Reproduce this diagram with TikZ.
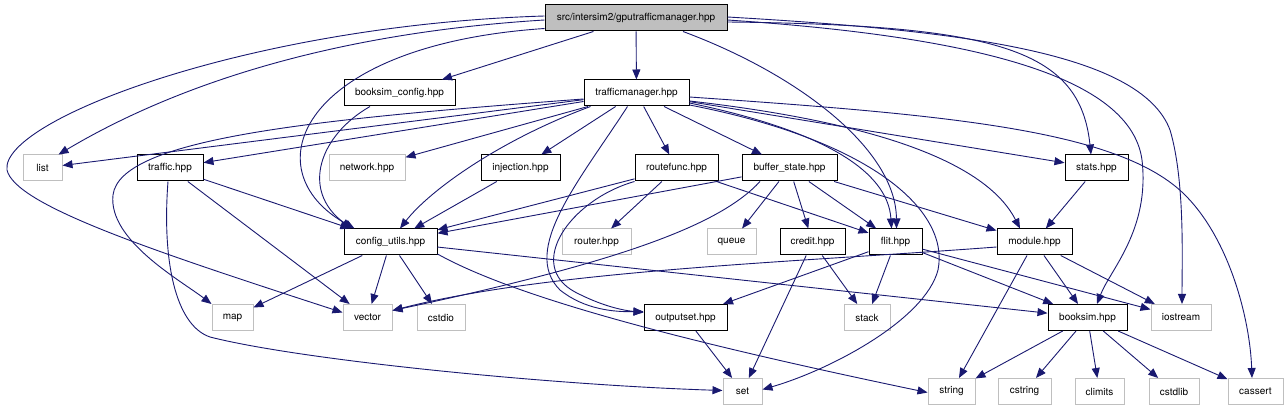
\documentclass[tikz,border=0pt]{standalone}
\usepackage{fontspec}
\setmainfont{TeX Gyre Heros}
\usepackage{tikz}
\usetikzlibrary{arrows.meta}
\definecolor{cedge}{RGB}{25,25,112}
\definecolor{cgray}{RGB}{191,191,191}

\begin{document}
\begin{tikzpicture}[x=1pt, y=-1pt,
  hdr/.style={draw=black, fill=white, line width=1pt, minimum height=26pt, inner sep=0pt,
              font=\fontsize{10}{12}\selectfont},
  sys/.style={hdr, draw=cgray},
  root/.style={hdr, fill=cgray},
  inc/.style={-{Triangle[length=10pt,width=8pt]}, draw=cedge, line width=0.9pt}]
\useasboundingbox (0,0) rectangle (1288,411);
\node[root, minimum width=182pt] (gpu)     at (636,18)      {src/intersim2/gputrafficmanager.hpp};
\node[hdr, minimum width=111pt]  (bcfg)    at (399.5,93)    {booksim\_config.hpp};
\node[hdr, minimum width=105pt]  (tm)      at (636.5,93)    {trafficmanager.hpp};
\node[sys, minimum width=39pt]   (list)    at (42.5,168)    {list};
\node[hdr, minimum width=66pt]   (traffic) at (170,168)     {traffic.hpp};
\node[sys, minimum width=76pt]   (network) at (367,168)     {network.hpp};
\node[hdr, minimum width=79pt]   (inj)     at (520.5,168)   {injection.hpp};
\node[hdr, minimum width=83pt]   (rfunc)   at (676.5,168)   {routefunc.hpp};
\node[hdr, minimum width=95pt]   (bstate)  at (789.5,168)   {buffer\_state.hpp};
\node[hdr, minimum width=63pt]   (stats)   at (1096.5,168)  {stats.hpp};
\node[hdr, minimum width=93pt]   (cfg)     at (390.5,242)   {config\_utils.hpp};
\node[sys, minimum width=69pt]   (router)  at (596.5,242)   {router.hpp};
\node[sys, minimum width=49pt]   (queue)   at (731.5,242)   {queue};
\node[hdr, minimum width=65pt]   (credit)  at (812.5,242)   {credit.hpp};
\node[hdr, minimum width=53pt]   (flit)    at (895.5,242)   {flit.hpp};
\node[hdr, minimum width=75pt]   (module)  at (1034.5,242)  {module.hpp};
\node[sys, minimum width=41pt]   (map)     at (232.5,317.5) {map};
\node[sys, minimum width=49pt]   (vector)  at (367.5,317.5) {vector};
\node[sys, minimum width=48pt]   (cstdio)  at (441,317.5)   {cstdio};
\node[hdr, minimum width=83pt]   (outset)  at (685.5,317.5) {outputset.hpp};
\node[sys, minimum width=46pt]   (stack)   at (867,317.5)   {stack};
\node[hdr, minimum width=79pt]   (booksim) at (1087.5,317.5) {booksim.hpp};
\node[sys, minimum width=60pt]   (iostream) at (1181,317.5) {iostream};
\node[sys, minimum width=39pt]   (set)     at (742.5,391.5) {set};
\node[sys, minimum width=47pt]   (string)  at (951.5,391.5) {string};
\node[sys, minimum width=53pt]   (cstring) at (1024.5,391.5) {cstring};
\node[sys, minimum width=49pt]   (climits) at (1099.5,391.5) {climits};
\node[sys, minimum width=50pt]   (cstdlib) at (1174,391.5)  {cstdlib};
\node[sys, minimum width=55pt]   (cassert) at (1255.5,391.5) {cassert};
\draw[inc] (gpu) -- (tm);
\draw[inc] (gpu) -- (bcfg);
\draw[inc] ([yshift=-2pt]gpu.west) .. controls (300,35) and (150,100) .. ([xshift=-4pt]list.north east);
\draw[inc] ([yshift=2pt]gpu.west) .. controls (250,25) and (0,120) .. (7,170) .. controls (15,205) and (150,250) .. ([yshift=5pt]vector.west);
\draw[inc] ([yshift=3pt]gpu.south west) .. controls (300,45) and (250,170) .. ([xshift=11pt]cfg.north west);
\draw[inc] ([xshift=47pt]gpu.south) .. controls (800,75) and (896,150) .. ([xshift=1pt]flit.north);
\draw[inc] ([yshift=-4pt]gpu.east) .. controls (1000,25) and (1080,50) .. ([xshift=-5.5pt]stats.north);
\draw[inc] ([yshift=-2pt]gpu.east) .. controls (950,35) and (1130,70) .. (1142,160) .. controls (1150,230) and (1110,270) .. ([xshift=9.5pt]booksim.north);
\draw[inc] ([yshift=1pt]gpu.east) .. controls (950,30) and (1140,50) .. (1170,130) .. controls (1185,180) and (1182,260) .. ([xshift=1pt]iostream.north);
\draw[inc] ([xshift=-29.5pt]bcfg.south) .. controls (320,135) and (300,190) .. ([xshift=8pt]cfg.north west);
\draw[inc] (tm) -- (list);
\draw[inc] (tm) -- (traffic);
\draw[inc] (tm) -- (network);
\draw[inc] (tm) -- (inj);
\draw[inc] (tm) -- (rfunc);
\draw[inc] (tm) -- (bstate);
\draw[inc] (tm) -- (stats);
\draw[inc] ([yshift=-6pt]tm.west) .. controls (300,120) and (120,140) .. (113,195) .. controls (108,240) and (180,280) .. (map.north west);
\draw[inc] ([xshift=-46pt]tm.south) .. controls (500,140) and (430,190) .. ([xshift=9.5pt]cfg.north);
\draw[inc] ([xshift=-9pt]tm.south) .. controls (580,180) and (520,250) .. (560,290) .. controls (585,310) and (615,312) .. ([yshift=6pt]outset.west);
\draw[inc] ([yshift=-10pt]tm.east) .. controls (820,130) and (888,170) .. ([xshift=-4pt]flit.north);
\draw[inc] ([yshift=-12pt]tm.east) .. controls (870,140) and (950,210) .. (938,270) .. controls (925,320) and (830,370) .. ([yshift=2pt]set.east);
\draw[inc] ([yshift=-8pt]tm.east) .. controls (900,125) and (990,170) .. ([xshift=-14.5pt]module.north);
\draw[inc] ([yshift=-4pt]tm.east) .. controls (950,115) and (1120,130) .. (1185,195) .. controls (1230,240) and (1250,320) .. ([xshift=-3.5pt]cassert.north);
\draw[inc] (traffic) -- (cfg);
\draw[inc] (traffic) -- (vector);
\draw[inc] ([xshift=-2pt]traffic.south) .. controls (162,260) and (175,325) .. (210,337) .. controls (300,360) and (550,385) .. ([yshift=1pt]set.west);
\draw[inc] (inj) -- (cfg);
\draw[inc] (rfunc) -- (cfg);
\draw[inc] (rfunc) -- (router);
\draw[inc] (rfunc) -- (flit);
\draw[inc] (rfunc.south west) .. controls (570,200) and (525,265) .. (575,292) .. controls (600,305) and (620,310) .. ([yshift=5pt]outset.west);
\draw[inc] (bstate) -- (cfg);
\draw[inc] ([xshift=-29.5pt]bstate.south) .. controls (720,225) and (620,262) .. ([yshift=7pt]vector.east);
\draw[inc] (bstate) -- (queue);
\draw[inc] (bstate) -- (credit);
\draw[inc] (bstate) -- (flit);
\draw[inc] (bstate) -- (module);
\draw[inc] (stats) -- (module);
\draw[inc] (cfg) -- (map);
\draw[inc] (cfg) -- (vector);
\draw[inc] (cfg) -- (cstdio);
\draw[inc] (cfg) -- (booksim);
\draw[inc] ([yshift=-12pt]cfg.east) .. controls (520,300) and (700,345) .. ([yshift=-1pt]string.west);
\draw[inc] (credit) -- (stack);
\draw[inc] (credit) -- (set);
\draw[inc] (flit) -- (outset);
\draw[inc] (flit) -- (stack);
\draw[inc] (flit) -- (booksim);
\draw[inc] (flit) -- (iostream);
\draw[inc] ([yshift=-5pt]module.west) .. controls (800,262) and (550,270) .. ([yshift=7pt]vector.east);
\draw[inc] (module) -- (string);
\draw[inc] (module) -- (booksim);
\draw[inc] (module) -- (iostream);
\draw[inc] (outset) -- (set);
\draw[inc] (booksim) -- (string);
\draw[inc] (booksim) -- (cstring);
\draw[inc] (booksim) -- (climits);
\draw[inc] (booksim) -- (cstdlib);
\draw[inc] (booksim) -- (cassert);
\end{tikzpicture}
\end{document}
